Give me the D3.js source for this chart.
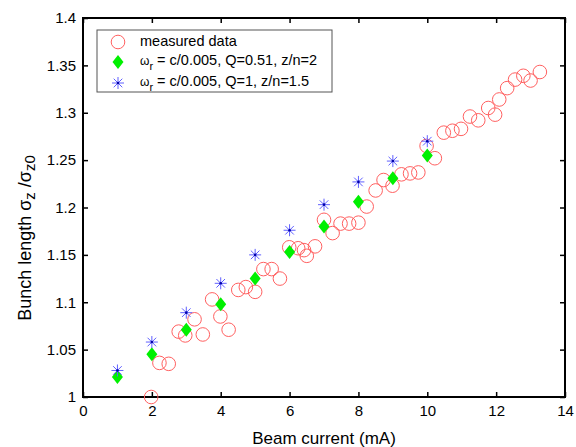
<!DOCTYPE html>
<meta charset="utf-8">
<style>
body { margin: 0; background: #fff; }
text { font-family: "Liberation Sans", Arial, sans-serif; fill: #000; }
.tick text { font-size: 15px; }
</style>
<body>
<script src="https://cdn.jsdelivr.net/npm/d3@7"></script>
<script>

// measured data (beam current mA, bunch length ratio)
var measuredX = [1.98, 2.22, 2.49, 2.78, 2.97, 3.24, 3.48, 3.75, 3.99, 4.23,
  4.51, 4.73, 5.0, 5.24, 5.48, 5.72, 5.99, 6.25, 6.42, 6.5, 6.74, 7.0, 7.25,
  7.48, 7.73, 8.0, 8.24, 8.5, 8.73, 8.99, 9.25, 9.5, 9.74, 9.98, 10.22, 10.48,
  10.73, 10.98, 11.24, 11.48, 11.77, 11.97, 12.09, 12.32, 12.55, 12.79, 13.0, 13.27];
var measuredY = [1.000, 1.036, 1.035, 1.069, 1.065, 1.082, 1.066, 1.103, 1.085, 1.071,
  1.113, 1.116, 1.111, 1.135, 1.135, 1.125, 1.158, 1.157, 1.155, 1.149, 1.159, 1.187, 1.173,
  1.183, 1.183, 1.184, 1.201, 1.218, 1.229, 1.223, 1.235, 1.236, 1.237, 1.265, 1.252, 1.279,
  1.281, 1.283, 1.296, 1.292, 1.305, 1.298, 1.314, 1.326, 1.335, 1.339, 1.334, 1.343];

// simulation, Q = 0.51 (green diamonds) and Q = 1 (blue stars)
var simCurrent = [1, 2, 3, 4, 5, 6, 7, 8, 9, 10];
var simQ051 = [1.021, 1.045, 1.071, 1.098, 1.125, 1.153, 1.180, 1.206, 1.231, 1.255];
var simQ1 = [1.028, 1.058, 1.089, 1.120, 1.150, 1.176, 1.203, 1.227, 1.249, 1.270];

var xTicks = [0, 2, 4, 6, 8, 10, 12, 14];
var yTicks = [1, 1.05, 1.1, 1.15, 1.2, 1.25, 1.3, 1.35, 1.4];

var width = 576, height = 447;
var margin = {top: 18, right: 11, bottom: 50, left: 83};

var svg = d3.select("body").append("svg")
    .attr("width", width)
    .attr("height", height);

var x = d3.scaleLinear().domain([0, 14]).range([margin.left, width - margin.right]);
var y = d3.scaleLinear().domain([1, 1.4]).range([height - margin.bottom, margin.top]);

var x0 = x(0), x1 = x(14), y0 = y(1), y1 = y(1.4);

// axes with inward ticks on all sides
svg.append("g")
    .attr("transform", "translate(0," + y0 + ")")
    .call(d3.axisBottom(x).tickValues(xTicks).tickSizeInner(-5).tickSizeOuter(0)
      .tickPadding(8).tickFormat(d3.format("d")));
svg.append("g")
    .attr("transform", "translate(0," + y1 + ")")
    .call(d3.axisTop(x).tickValues(xTicks).tickSizeInner(-5).tickSizeOuter(0).tickFormat(""));
svg.append("g")
    .attr("transform", "translate(" + x0 + ",0)")
    .call(d3.axisLeft(y).tickValues(yTicks).tickSizeInner(-5).tickSizeOuter(0)
      .tickPadding(7).tickFormat(function(d) { return d3.format("")(+d.toFixed(2)); }));
svg.append("g")
    .attr("transform", "translate(" + x1 + ",0)")
    .call(d3.axisRight(y).tickValues(yTicks).tickSizeInner(-5).tickSizeOuter(0).tickFormat(""));

svg.selectAll(".domain").remove();
svg.selectAll(".tick line").attr("stroke", "#000").attr("stroke-width", 1.5);
svg.selectAll(".tick text").attr("fill", "#000");

svg.append("rect")
    .attr("x", x0).attr("y", y1)
    .attr("width", x1 - x0).attr("height", y0 - y1)
    .attr("fill", "none").attr("stroke", "#000").attr("stroke-width", 2);

// markers
function diamond(g, cx, cy) {
  g.append("path")
    .attr("d", "M" + cx + "," + (cy - 7) + "L" + (cx + 5.5) + "," + cy +
      "L" + cx + "," + (cy + 7) + "L" + (cx - 5.5) + "," + cy + "Z")
    .attr("fill", "#00f000");
}
function star(g, cx, cy) {
  var r = 6, d = 4.3;
  g.append("path")
    .attr("d", "M" + (cx - r) + "," + cy + "H" + (cx + r) +
      "M" + cx + "," + (cy - r) + "V" + (cy + r) +
      "M" + (cx - d) + "," + (cy - d) + "L" + (cx + d) + "," + (cy + d) +
      "M" + (cx - d) + "," + (cy + d) + "L" + (cx + d) + "," + (cy - d))
    .attr("stroke", "#6060ff").attr("stroke-width", 1).attr("fill", "none");
  g.append("circle").attr("cx", cx).attr("cy", cy).attr("r", 1.3).attr("fill", "#0000aa");
}

var marks = svg.append("g");

marks.selectAll(".meas")
    .data(measuredX)
  .enter().append("circle")
    .attr("class", "meas")
    .attr("cx", function(d) { return x(d); })
    .attr("cy", function(d, i) { return y(measuredY[i]); })
    .attr("r", 6.8)
    .attr("fill", "none")
    .attr("stroke", "#ff6060")
    .attr("stroke-width", 1);

simCurrent.forEach(function(c, i) { diamond(marks, x(c), y(simQ051[i])); });
simCurrent.forEach(function(c, i) { star(marks, x(c), y(simQ1[i])); });

// legend
var legend = svg.append("g");
legend.append("rect")
    .attr("x", 97).attr("y", 30).attr("width", 235).attr("height", 62)
    .attr("fill", "#fff").attr("stroke", "#555").attr("stroke-width", 1);

legend.append("circle").attr("cx", 118).attr("cy", 42)
    .attr("r", 6.8).attr("fill", "none").attr("stroke", "#ff6060");
diamond(legend, 118, 62);
star(legend, 118, 83);

legend.append("text").attr("x", 140).attr("y", 46)
    .style("font-size", "14.5px").text("measured data");

var labels = [["c/0.005, Q=0.51, z/n=2", 65], ["c/0.005, Q=1, z/n=1.5", 86]];
labels.forEach(function(l) {
  var t = legend.append("text").attr("x", 140).attr("y", l[1]).style("font-size", "14.5px");
  t.append("tspan").style("font-size", "12px").text("\u03c9");
  t.append("tspan").attr("dy", 5).style("font-size", "11px").text("r");
  t.append("tspan").attr("dy", -5).text(" = " + l[0]);
});

// axis titles
svg.append("text")
    .attr("x", (x0 + x1) / 2).attr("y", 444)
    .attr("text-anchor", "middle")
    .style("font-size", "17px")
    .text("Beam current (mA)");

var yl = svg.append("text")
    .attr("transform", "translate(31,238) rotate(-90)")
    .attr("text-anchor", "middle")
    .style("font-size", "18px");
yl.append("tspan").text("Bunch length \u03c3");
yl.append("tspan").attr("dy", 4).style("font-size", "15px").text("z");
yl.append("tspan").attr("dy", -4).text(" /\u03c3");
yl.append("tspan").attr("dy", 4).style("font-size", "15px").text("z0");

</script>
</body>
